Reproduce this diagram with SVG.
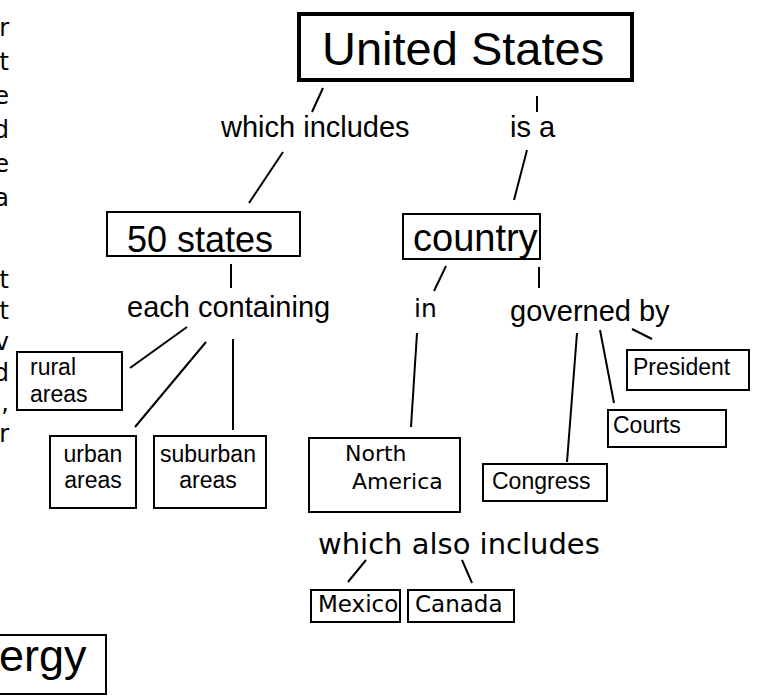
<svg xmlns="http://www.w3.org/2000/svg" width="760" height="696" viewBox="0 0 760 696">
<style>
.box{fill:#fff;stroke:#000;stroke-width:2}
.main{fill:#fff;stroke:#000;stroke-width:4}
.a{font-family:"Liberation Sans",Arial,sans-serif;fill:#000}
.v{font-family:"DejaVu Sans",Verdana,sans-serif;fill:#000}
.lbl{font-size:29px}
.sm{font-size:23px}
.cut{font-family:"DejaVu Sans",Verdana,sans-serif;font-size:24px;text-anchor:end;fill:#000}
#connectors line{stroke:#000;stroke-width:2;fill:none}
</style>
<rect width="760" height="696" fill="#fff"/>
<g id="clipped-text">
<text class="cut" x="9" y="36">r</text>
<text class="cut" x="9" y="70">t</text>
<text class="cut" x="9" y="104">e</text>
<text class="cut" x="9" y="138">d</text>
<text class="cut" x="9" y="172">e</text>
<text class="cut" x="9" y="206">a</text>
<text class="cut" x="9" y="288">t</text>
<text class="cut" x="9" y="319">t</text>
<text class="cut" x="9" y="350">v</text>
<text class="cut" x="9" y="381">d</text>
<text class="cut" x="9" y="411">,</text>
<text class="cut" x="9" y="442">r</text>
</g>
<g id="connectors">
<line x1="323" y1="88" x2="312" y2="112"/>
<line x1="283" y1="152" x2="249" y2="203"/>
<line x1="537" y1="96" x2="537" y2="112"/>
<line x1="527" y1="150" x2="514" y2="200"/>
<line x1="231" y1="264" x2="231" y2="288"/>
<line x1="187" y1="327" x2="130" y2="368"/>
<line x1="206" y1="342" x2="135" y2="427"/>
<line x1="233" y1="339" x2="233" y2="430"/>
<line x1="446" y1="266" x2="434" y2="291"/>
<line x1="417" y1="333" x2="411" y2="427"/>
<line x1="539" y1="267" x2="539" y2="288"/>
<line x1="632" y1="329" x2="652" y2="339"/>
<line x1="600" y1="330" x2="614" y2="403"/>
<line x1="577" y1="333" x2="567" y2="462"/>
<line x1="366" y1="560" x2="348" y2="582"/>
<line x1="462" y1="560" x2="472" y2="583"/>
</g>
<g id="united-states">
<rect class="main" x="299" y="14" width="333" height="66"/>
<text class="a" x="322" y="65" font-size="47">United States</text>
</g>
<g id="label-which-includes"><text class="a lbl" x="221" y="137">which includes</text></g>
<g id="label-is-a"><text class="a lbl" x="510" y="137">is a</text></g>
<g id="fifty-states">
<rect class="box" x="107" y="212" width="193" height="44"/>
<text class="a" x="127" y="252" font-size="36">50 states</text>
</g>
<g id="country">
<rect class="box" x="403" y="214" width="137" height="45"/>
<text class="a" x="413" y="251" font-size="38">country</text>
</g>
<g id="label-each-containing"><text class="a lbl" x="127" y="317">each containing</text></g>
<g id="label-in"><text class="v" x="414" y="317" font-size="25">in</text></g>
<g id="label-governed-by"><text class="a lbl" x="510" y="321">governed by</text></g>
<g id="rural-areas">
<rect class="box" x="17" y="352" width="105" height="58"/>
<text class="a sm" x="30" y="375">rural</text>
<text class="a sm" x="30" y="402">areas</text>
</g>
<g id="urban-areas">
<rect class="box" x="50" y="436" width="86" height="72"/>
<text class="a sm" x="93" y="462" text-anchor="middle">urban</text>
<text class="a sm" x="93" y="488" text-anchor="middle">areas</text>
</g>
<g id="suburban-areas">
<rect class="box" x="154" y="436" width="112" height="72"/>
<text class="a sm" x="208" y="462" text-anchor="middle">suburban</text>
<text class="a sm" x="208" y="488" text-anchor="middle">areas</text>
</g>
<g id="north-america">
<rect class="box" x="309" y="438" width="151" height="74"/>
<text class="v" x="345" y="461" font-size="22">North</text>
<text class="v" x="352" y="489" font-size="22">America</text>
</g>
<g id="president">
<rect class="box" x="627" y="350" width="122" height="40"/>
<text class="a sm" x="633" y="375">President</text>
</g>
<g id="courts">
<rect class="box" x="608" y="410" width="118" height="37"/>
<text class="a sm" x="613" y="433">Courts</text>
</g>
<g id="congress">
<rect class="box" x="483" y="464" width="124" height="37"/>
<text class="a sm" x="492" y="489">Congress</text>
</g>
<g id="label-which-also-includes"><text class="v" x="318" y="554" font-size="29">which also includes</text></g>
<g id="mexico">
<rect class="box" x="311" y="590" width="89" height="32"/>
<text class="v" x="318" y="612" font-size="23">Mexico</text>
</g>
<g id="canada">
<rect class="box" x="408" y="590" width="106" height="32"/>
<text class="v" x="415" y="612" font-size="23">Canada</text>
</g>
<g id="energy">
<rect class="box" x="-10" y="635" width="116" height="59"/>
<text class="a" x="-1" y="671" font-size="45">ergy</text>
</g>
</svg>
